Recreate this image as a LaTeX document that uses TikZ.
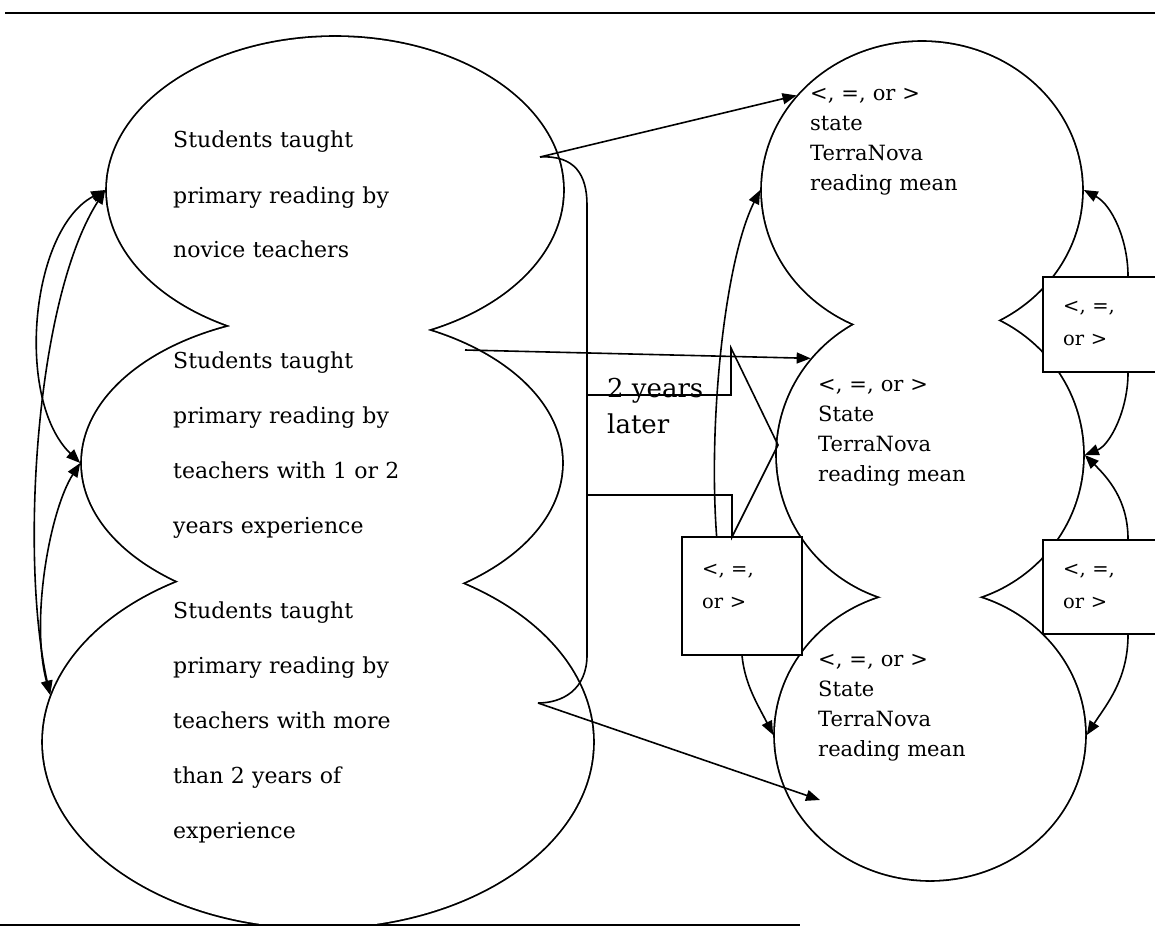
\documentclass[tikz,border=0pt]{standalone}
\usepackage{fontspec}
\setmainfont{DejaVu Serif}
\usetikzlibrary{shapes.geometric,arrows.meta}
\begin{document}
\begin{tikzpicture}[x=1pt,y=-1pt,
  oval/.style n args={2}{ellipse,draw,line width=3.6pt,inner sep=0pt,minimum width=#1pt,minimum height=#2pt},
  bigtext/.style={anchor=base west,inner sep=0pt,text width=330pt,align=left,font=\fontsize{22}{55}\selectfont},
  smalltext/.style={anchor=base west,inner sep=0pt,text width=200pt,align=left,font=\fontsize{21}{30}\selectfont},
  boxtext/.style={anchor=base west,inner sep=0pt,text width=100pt,align=left,font=\fontsize{19.5}{33}\selectfont},
  cmpbox/.style={draw,fill=white,line width=1.6pt,inner sep=0pt},
  conn/.style={line width=1.6pt},
  arr/.style={conn,-{Triangle[length=14pt,width=11pt]}},
  darr/.style={conn,{Triangle[length=14pt,width=11pt]}-{Triangle[length=14pt,width=11pt]}}]
\useasboundingbox (0,0) rectangle (1155,944);
% ellipses (union outline)
\node[oval={456}{306}] (e1) at (335,190) {};
\node[oval={480}{296}] (e2) at (322,463) {};
\node[oval={550}{372}] (e3) at (318,742) {};
\node[oval={320}{296}] (r1) at (922,190) {};
\node[oval={306}{300}] (r2) at (930,455) {};
\node[oval={310}{290}] (r3) at (930,735) {};
\fill[white] (e1.center) ellipse [x radius=228, y radius=153];
\fill[white] (e2.center) ellipse [x radius=240, y radius=148];
\fill[white] (e3.center) ellipse [x radius=275, y radius=186];
\fill[white] (r1.center) ellipse [x radius=160, y radius=148];
\fill[white] (r2.center) ellipse [x radius=153, y radius=150];
\fill[white] (r3.center) ellipse [x radius=155, y radius=145];
\fill[white] (0,926) rectangle (1155,944);
% rules
\draw[line width=2.5pt] (5,13) -- (1155,13);
\draw[line width=2.5pt] (0,925) -- (800,925);
% texts
\node[bigtext] (t1) at (173,148) {Students taught\\primary reading by\\novice teachers};
\node[bigtext] (t2) at (173,368) {Students taught\\primary reading by\\teachers with 1 or 2\\years experience};
\node[bigtext] (t3) at (173,618) {Students taught\\primary reading by\\teachers with more\\than 2 years of\\experience};
\node[smalltext] (s1) at (810,101) {<, =, or >\\state\\TerraNova\\reading mean};
\node[smalltext] (s2) at (818,391) {<, =, or >\\State\\TerraNova\\reading mean};
\node[smalltext] (s3) at (818,666) {<, =, or >\\State\\TerraNova\\reading mean};
% boxes
\node[cmpbox,minimum width=120pt,minimum height=118pt] (mb) at (742,596) {};
\node[cmpbox,minimum width=170pt,minimum height=95pt] (ra) at (1128,324.5) {};
\node[cmpbox,minimum width=170pt,minimum height=94pt] (rb) at (1128,587) {};
\node[boxtext] (mbt) at (702,575) {<, =,\\or >};
\node[boxtext] (rat) at (1063,312) {<, =,\\or >};
\node[boxtext] (rbt) at (1063,575) {<, =,\\or >};
% bracket and block arrow
\coordinate (p1) at (540,157);
\coordinate (p2) at (465,350);
\coordinate (p3) at (538,703);
\coordinate (p4) at (820,800);
\draw[conn] (p1) .. controls (575,155) and (587,175) .. (587,205) -- (587,655) .. controls (587,690) and (562,703) .. (p3);
\draw[conn,line join=miter] (587,395) -- (731,395) -- (731,348) -- (778,445) -- (732,537) -- (732,495) -- (587,495);
\node[anchor=base west,inner sep=0pt,align=left,font=\fontsize{26}{36}\selectfont] (yl) at (607,433) {2 years\\later};
% connectors
\draw[arr] (p1) -- (r1.143);
\draw[arr] (p2) -- (r2.141);
\draw[arr] (p3) -- (p4);
\draw[arr] (mb.113) .. controls (708,420) and (725,260) .. (r1.west);
\draw[arr] (mb.south) .. controls (745,685) and (758,705) .. (r3.west);
\draw[arr] (ra.north) .. controls (1128,240) and (1112,205) .. (r1.east);
\draw[arr] (ra.south) .. controls (1128,410) and (1110,445) .. (r2.east);
\draw[arr] (rb.north) .. controls (1128,500) and (1108,478) .. (r2.east);
\draw[arr] (rb.south) .. controls (1128,680) and (1106,705) .. (r3.east);
\draw[darr] (e1.west) .. controls (30,230) and (15,400) .. (e2.west);
\draw[darr] (e1.west) .. controls (35,300) and (20,560) .. (e3.170);
\draw[darr] (e2.west) .. controls (50,510) and (30,620) .. (e3.170);
\end{tikzpicture}
\end{document}
